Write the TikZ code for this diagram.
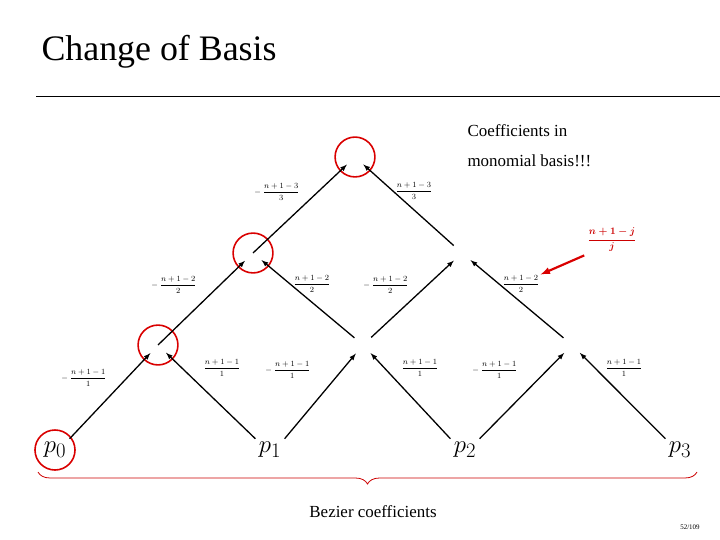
\documentclass[tikz,border=0pt]{standalone}
\usepackage{amsmath}
\usepackage{fontspec}
\setmainfont{Liberation Serif}
\usetikzlibrary{positioning, decorations.pathreplacing}

\tikzset{
    knot/.style={circle, minimum size=22pt, inner sep=0pt},
    mark ring/.style={circle, draw=red!85!black, line width=1.6pt, minimum size=40pt, inner sep=0pt},
    edge arrow/.style={-latex, line width=1.3pt},
    coef/.style={font=\footnotesize, inner sep=1pt}
}

\begin{document}
\begin{tikzpicture}[x=1bp, y=-1bp]
    \useasboundingbox (0,0) rectangle (720,540);

    % title
    \node[anchor=west, font=\fontsize{36}{40}\selectfont] (title) at (38,52) {Change of Basis};
    \draw[line width=0.6pt] (36,96) -- (720,96);

    % bezier points
    \node[font=\Huge] (p0) at (55,450) {$p_0$};
    \node[font=\Huge] (p1) at (270,450) {$p_1$};
    \node[font=\Huge] (p2) at (465,450) {$p_2$};
    \node[font=\Huge] (p3) at (680,450) {$p_3$};

    % pyramid knots
    \node[knot] (a1) at (158,345) {};
    \node[knot] (a2) at (363,345) {};
    \node[knot] (a3) at (572,345) {};
    \node[knot] (b1) at (253,253) {};
    \node[knot] (b2) at (462,253) {};
    \node[knot] (c1) at (355,157) {};

    % red rings
    \node[mark ring] (r1) at (a1) {};
    \node[mark ring] (r2) at (b1) {};
    \node[mark ring] (r3) at (c1) {};
    \draw[red!85!black, line width=1.6pt] (p0) circle (20bp);

    % connectors
    \draw[edge arrow] (p0.north east) -- (a1);
    \draw[edge arrow] (p1.north west) -- (a1);
    \draw[edge arrow] (p1.north east) -- (a2);
    \draw[edge arrow] (p2.north west) -- (a2);
    \draw[edge arrow] (p2.north east) -- (a3);
    \draw[edge arrow] (p3.north west) -- (a3);
    \draw[edge arrow] (a1.center) -- (b1);
    \draw[edge arrow] (a2) -- (b1);
    \draw[edge arrow] (a2) -- (b2);
    \draw[edge arrow] (a3) -- (b2);
    \draw[edge arrow] (b1.center) -- (c1);
    \draw[edge arrow] (b2) -- (c1);

    % coefficients
    \node[coef] (k1) at (84,378) {$-\ \dfrac{n+1-1}{1}$};
    \node[coef] (k2) at (222,368) {$\dfrac{n+1-1}{1}$};
    \node[coef] (k3) at (288,370) {$-\ \dfrac{n+1-1}{1}$};
    \node[coef] (k4) at (420,368) {$\dfrac{n+1-1}{1}$};
    \node[coef] (k5) at (495,370) {$-\ \dfrac{n+1-1}{1}$};
    \node[coef] (k6) at (624,368) {$\dfrac{n+1-1}{1}$};
    \node[coef] (m1) at (174,285) {$-\ \dfrac{n+1-2}{2}$};
    \node[coef] (m2) at (312,284) {$\dfrac{n+1-2}{2}$};
    \node[coef] (m3) at (386,285) {$-\ \dfrac{n+1-2}{2}$};
    \node[coef] (m4) at (521,284) {$\dfrac{n+1-2}{2}$};
    \node[coef] (t1) at (277,192) {$-\ \dfrac{n+1-3}{3}$};
    \node[coef] (t2) at (414,191) {$\dfrac{n+1-3}{3}$};

    % general term
    \node[text=red!80!black, font=\normalsize] (gen) at (612,240) {$\boldsymbol{\dfrac{n+1-j}{j}}$};
    \draw[-latex, red!85!black, line width=2.2pt] (gen.south west) -- (m4.north east);

    \node[anchor=north west, align=left, font=\fontsize{17}{30}\selectfont] (mono) at (464,121) {Coefficients in\\monomial basis!!!};

    % brace
    \draw[decorate, decoration={brace, amplitude=12bp, mirror}, red!80!black, line width=0.8pt] (38,472) -- (697,472);
    \node[font=\fontsize{17}{20}\selectfont] (bez) at (373,512) {Bezier coefficients};
    \node[font=\scriptsize] (page) at (690,527) {52/109};
\end{tikzpicture}
\end{document}
